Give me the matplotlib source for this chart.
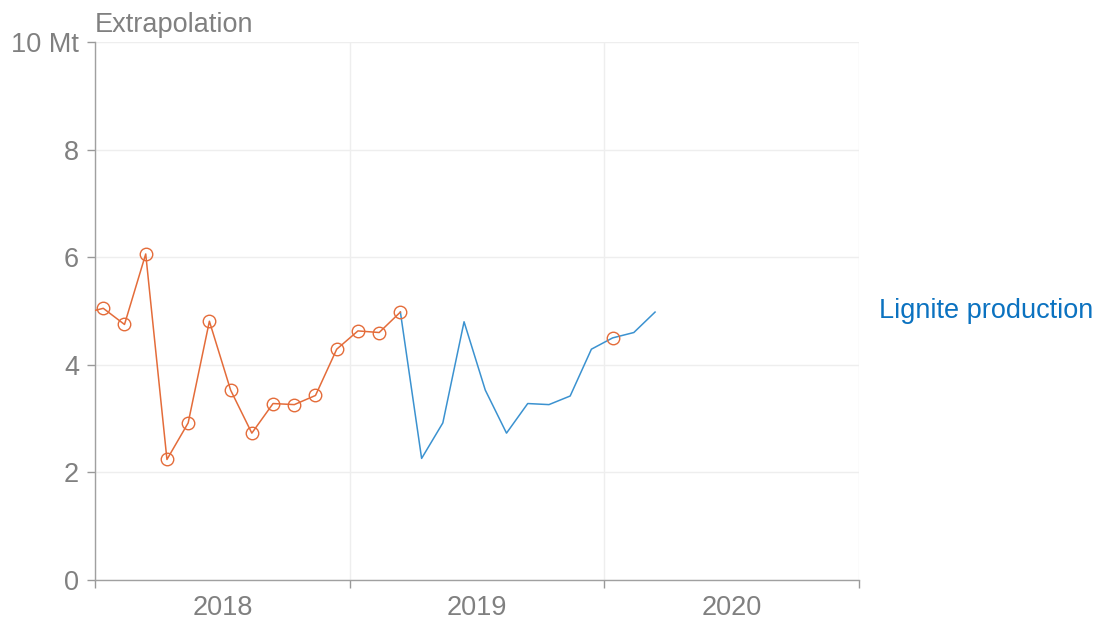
import matplotlib
matplotlib.use("Agg")
import matplotlib.pyplot as plt
from matplotlib.ticker import FixedLocator, NullFormatter, FixedFormatter

plt.rcParams['font.family'] = ['Liberation Sans', 'DejaVu Sans']

# Actual monthly lignite production (Mt), Dec 2017 .. Mar 2019, plus Jan 2020
actual_months = ["2017-12", "2018-01", "2018-02", "2018-03", "2018-04", "2018-05", "2018-06",
                 "2018-07", "2018-08", "2018-09", "2018-10", "2018-11", "2018-12",
                 "2019-01", "2019-02", "2019-03"]
actual_values = [4.95, 5.05, 4.75, 6.06, 2.24, 2.92, 4.81, 3.53, 2.73, 3.28, 3.26, 3.43, 4.29,
                 4.63, 4.60, 4.98]
extra_months = ["2020-01"]
extra_values = [4.50]

# Extrapolated series Mar 2019 .. Mar 2020
extrap_months = ["2019-03", "2019-04", "2019-05", "2019-06", "2019-07", "2019-08", "2019-09",
                 "2019-10", "2019-11", "2019-12", "2020-01", "2020-02", "2020-03"]
extrap_values = [4.98, 2.26, 2.92, 4.80, 3.53, 2.73, 3.28, 3.26, 3.42, 4.29, 4.50, 4.60, 4.98]

year_ticks = [2018, 2019, 2020, 2021]
year_labels = ["2018", "2019", "2020"]
y_ticks = [0, 2, 4, 6, 8, 10]
y_labels = ["0", "2", "4", "6", "8", "10 Mt"]

ORANGE = "#e46c3a"
BLUE = "#3b92d0"
LABEL_BLUE = "#0b72c0"
GRAY = "#808080"
FS = 19.5


def to_x(m):
    y, mo = m.split("-")
    return int(y) + (int(mo) - 1 + 0.39) / 12.0


fig = plt.figure(figsize=(10.99, 6.23), dpi=100)
ax = fig.add_axes([95 / 1099, 1 - 580 / 623, (859 - 95) / 1099, (580 - 42) / 623])

ax.plot([to_x(m) for m in extrap_months], extrap_values, color=BLUE, lw=1.1, zorder=3)
ax.plot([to_x(m) for m in actual_months], actual_values, color=ORANGE, lw=1.1,
        marker="o", markersize=9, markerfacecolor="none", markeredgecolor=ORANGE,
        markeredgewidth=1.0, zorder=4)
ax.plot([to_x(m) for m in extra_months], extra_values, linestyle="none",
        marker="o", markersize=9, markerfacecolor="none", markeredgecolor=ORANGE,
        markeredgewidth=1.0, zorder=4)

ax.set_xlim(year_ticks[0], year_ticks[-1])
ax.set_ylim(0, 10)

ax.xaxis.set_major_locator(FixedLocator(year_ticks))
ax.xaxis.set_major_formatter(NullFormatter())
ax.xaxis.set_minor_locator(FixedLocator([y + 0.5 for y in year_ticks[:-1]]))
ax.xaxis.set_minor_formatter(FixedFormatter(year_labels))
ax.tick_params(axis="x", which="major", length=6, width=1, color="#999999", direction="out")
ax.tick_params(axis="x", which="minor", length=0, pad=11, labelsize=FS, labelcolor=GRAY)

ax.set_yticks(y_ticks)
ax.set_yticklabels(y_labels)
ax.tick_params(axis="y", length=6, width=1, color="#999999", pad=5.5, labelsize=FS,
               labelcolor=GRAY)

ax.grid(True, which="major", axis="both", color="#eeeeee", lw=1, zorder=0)
ax.set_axisbelow(True)

for s in ["top", "right"]:
    ax.spines[s].set_visible(False)
for s in ["left", "bottom"]:
    ax.spines[s].set_color("#a0a0a0")
    ax.spines[s].set_linewidth(1)

ax.annotate("Extrapolation", xy=(0.0, 1.0), xycoords="axes fraction", xytext=(0, 10),
            textcoords="offset pixels", ha="left", va="baseline", fontsize=FS, color=GRAY,
            annotation_clip=False)
ax.annotate("Lignite production", xy=(year_ticks[-1], 5.0), xytext=(20, 0),
            textcoords="offset pixels", ha="left", va="center", fontsize=FS,
            color=LABEL_BLUE, annotation_clip=False)

fig.savefig("out.png", dpi=100)
